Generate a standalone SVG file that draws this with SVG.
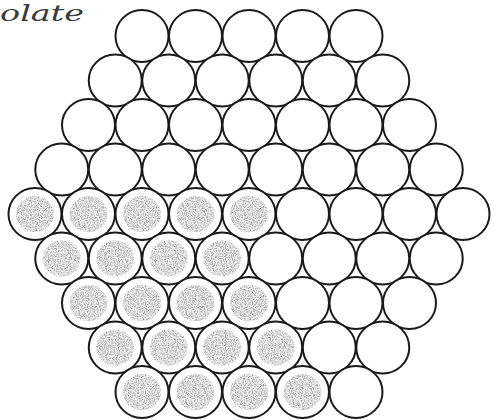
<svg xmlns="http://www.w3.org/2000/svg" width="495" height="420" viewBox="0 0 495 420">
<style>
.c{fill:#fff;stroke:#1a1a1a;stroke-width:2}
.b{fill:#e0e0e0;opacity:.5}
.s{fill:#000;filter:url(#pencil)}
.t{font-family:"DejaVu Serif",serif;font-style:italic;font-size:22px;fill:#3a3a3a}
</style>
<defs>
<filter id="pencil" x="-10%" y="-10%" width="120%" height="120%">
<feTurbulence type="fractalNoise" baseFrequency="0.9" numOctaves="2" seed="4" result="n"/>
<feColorMatrix in="n" type="matrix" values="0 0 0 0 0.3  0 0 0 0 0.3  0 0 0 0 0.3  2.6 0 0 0 -1.1" result="d"/>
<feComposite in="d" in2="SourceGraphic" operator="in"/>
</filter>
<g id="sh"><ellipse class="b" rx="19" ry="18"/><ellipse class="s" rx="19" ry="18"/></g>
</defs>
<text class="t" x="0" y="21" textLength="84" lengthAdjust="spacingAndGlyphs">olate</text>
<g id="connectors"/>
<g id="nodes">
<g id="r0-0"><ellipse class="c" cx="142" cy="36" rx="26.5" ry="26"/></g>
<g id="r0-1"><ellipse class="c" cx="195.5" cy="36" rx="26.5" ry="26"/></g>
<g id="r0-2"><ellipse class="c" cx="249" cy="36" rx="26.5" ry="26"/></g>
<g id="r0-3"><ellipse class="c" cx="302.5" cy="36" rx="26.5" ry="26"/></g>
<g id="r0-4"><ellipse class="c" cx="356" cy="36" rx="26.5" ry="26"/></g>

<g id="r1-0"><ellipse class="c" cx="115.25" cy="80.5" rx="26.5" ry="26"/></g>
<g id="r1-1"><ellipse class="c" cx="168.75" cy="80.5" rx="26.5" ry="26"/></g>
<g id="r1-2"><ellipse class="c" cx="222.25" cy="80.5" rx="26.5" ry="26"/></g>
<g id="r1-3"><ellipse class="c" cx="275.75" cy="80.5" rx="26.5" ry="26"/></g>
<g id="r1-4"><ellipse class="c" cx="329.25" cy="80.5" rx="26.5" ry="26"/></g>
<g id="r1-5"><ellipse class="c" cx="382.75" cy="80.5" rx="26.5" ry="26"/></g>

<g id="r2-0"><ellipse class="c" cx="88.5" cy="125" rx="26.5" ry="26"/></g>
<g id="r2-1"><ellipse class="c" cx="142" cy="125" rx="26.5" ry="26"/></g>
<g id="r2-2"><ellipse class="c" cx="195.5" cy="125" rx="26.5" ry="26"/></g>
<g id="r2-3"><ellipse class="c" cx="249" cy="125" rx="26.5" ry="26"/></g>
<g id="r2-4"><ellipse class="c" cx="302.5" cy="125" rx="26.5" ry="26"/></g>
<g id="r2-5"><ellipse class="c" cx="356" cy="125" rx="26.5" ry="26"/></g>
<g id="r2-6"><ellipse class="c" cx="409.5" cy="125" rx="26.5" ry="26"/></g>

<g id="r3-0"><ellipse class="c" cx="61.75" cy="169.5" rx="26.5" ry="26"/></g>
<g id="r3-1"><ellipse class="c" cx="115.25" cy="169.5" rx="26.5" ry="26"/></g>
<g id="r3-2"><ellipse class="c" cx="168.75" cy="169.5" rx="26.5" ry="26"/></g>
<g id="r3-3"><ellipse class="c" cx="222.25" cy="169.5" rx="26.5" ry="26"/></g>
<g id="r3-4"><ellipse class="c" cx="275.75" cy="169.5" rx="26.5" ry="26"/></g>
<g id="r3-5"><ellipse class="c" cx="329.25" cy="169.5" rx="26.5" ry="26"/></g>
<g id="r3-6"><ellipse class="c" cx="382.75" cy="169.5" rx="26.5" ry="26"/></g>
<g id="r3-7"><ellipse class="c" cx="436.25" cy="169.5" rx="26.5" ry="26"/></g>

<g id="r4-0"><ellipse class="c" cx="35" cy="214" rx="26.5" ry="26"/><use href="#sh" x="35" y="214"/></g>
<g id="r4-1"><ellipse class="c" cx="88.5" cy="214" rx="26.5" ry="26"/><use href="#sh" x="88.5" y="214"/></g>
<g id="r4-2"><ellipse class="c" cx="142" cy="214" rx="26.5" ry="26"/><use href="#sh" x="142" y="214"/></g>
<g id="r4-3"><ellipse class="c" cx="195.5" cy="214" rx="26.5" ry="26"/><use href="#sh" x="195.5" y="214"/></g>
<g id="r4-4"><ellipse class="c" cx="249" cy="214" rx="26.5" ry="26"/><use href="#sh" x="249" y="214"/></g>
<g id="r4-5"><ellipse class="c" cx="302.5" cy="214" rx="26.5" ry="26"/></g>
<g id="r4-6"><ellipse class="c" cx="356" cy="214" rx="26.5" ry="26"/></g>
<g id="r4-7"><ellipse class="c" cx="409.5" cy="214" rx="26.5" ry="26"/></g>
<g id="r4-8"><ellipse class="c" cx="463" cy="214" rx="26.5" ry="26"/></g>

<g id="r5-0"><ellipse class="c" cx="61.75" cy="258.5" rx="26.5" ry="26"/><use href="#sh" x="61.75" y="258.5"/></g>
<g id="r5-1"><ellipse class="c" cx="115.25" cy="258.5" rx="26.5" ry="26"/><use href="#sh" x="115.25" y="258.5"/></g>
<g id="r5-2"><ellipse class="c" cx="168.75" cy="258.5" rx="26.5" ry="26"/><use href="#sh" x="168.75" y="258.5"/></g>
<g id="r5-3"><ellipse class="c" cx="222.25" cy="258.5" rx="26.5" ry="26"/><use href="#sh" x="222.25" y="258.5"/></g>
<g id="r5-4"><ellipse class="c" cx="275.75" cy="258.5" rx="26.5" ry="26"/></g>
<g id="r5-5"><ellipse class="c" cx="329.25" cy="258.5" rx="26.5" ry="26"/></g>
<g id="r5-6"><ellipse class="c" cx="382.75" cy="258.5" rx="26.5" ry="26"/></g>
<g id="r5-7"><ellipse class="c" cx="436.25" cy="258.5" rx="26.5" ry="26"/></g>

<g id="r6-0"><ellipse class="c" cx="88.5" cy="303" rx="26.5" ry="26"/><use href="#sh" x="88.5" y="303"/></g>
<g id="r6-1"><ellipse class="c" cx="142" cy="303" rx="26.5" ry="26"/><use href="#sh" x="142" y="303"/></g>
<g id="r6-2"><ellipse class="c" cx="195.5" cy="303" rx="26.5" ry="26"/><use href="#sh" x="195.5" y="303"/></g>
<g id="r6-3"><ellipse class="c" cx="249" cy="303" rx="26.5" ry="26"/><use href="#sh" x="249" y="303"/></g>
<g id="r6-4"><ellipse class="c" cx="302.5" cy="303" rx="26.5" ry="26"/></g>
<g id="r6-5"><ellipse class="c" cx="356" cy="303" rx="26.5" ry="26"/></g>
<g id="r6-6"><ellipse class="c" cx="409.5" cy="303" rx="26.5" ry="26"/></g>

<g id="r7-0"><ellipse class="c" cx="115.25" cy="347.5" rx="26.5" ry="26"/><use href="#sh" x="115.25" y="347.5"/></g>
<g id="r7-1"><ellipse class="c" cx="168.75" cy="347.5" rx="26.5" ry="26"/><use href="#sh" x="168.75" y="347.5"/></g>
<g id="r7-2"><ellipse class="c" cx="222.25" cy="347.5" rx="26.5" ry="26"/><use href="#sh" x="222.25" y="347.5"/></g>
<g id="r7-3"><ellipse class="c" cx="275.75" cy="347.5" rx="26.5" ry="26"/><use href="#sh" x="275.75" y="347.5"/></g>
<g id="r7-4"><ellipse class="c" cx="329.25" cy="347.5" rx="26.5" ry="26"/></g>
<g id="r7-5"><ellipse class="c" cx="382.75" cy="347.5" rx="26.5" ry="26"/></g>

<g id="r8-0"><ellipse class="c" cx="142" cy="392" rx="26.5" ry="26"/><use href="#sh" x="142" y="392"/></g>
<g id="r8-1"><ellipse class="c" cx="195.5" cy="392" rx="26.5" ry="26"/><use href="#sh" x="195.5" y="392"/></g>
<g id="r8-2"><ellipse class="c" cx="249" cy="392" rx="26.5" ry="26"/><use href="#sh" x="249" y="392"/></g>
<g id="r8-3"><ellipse class="c" cx="302.5" cy="392" rx="26.5" ry="26"/><use href="#sh" x="302.5" y="392"/></g>
<g id="r8-4"><ellipse class="c" cx="356" cy="392" rx="26.5" ry="26"/></g>
</g>
</svg>
